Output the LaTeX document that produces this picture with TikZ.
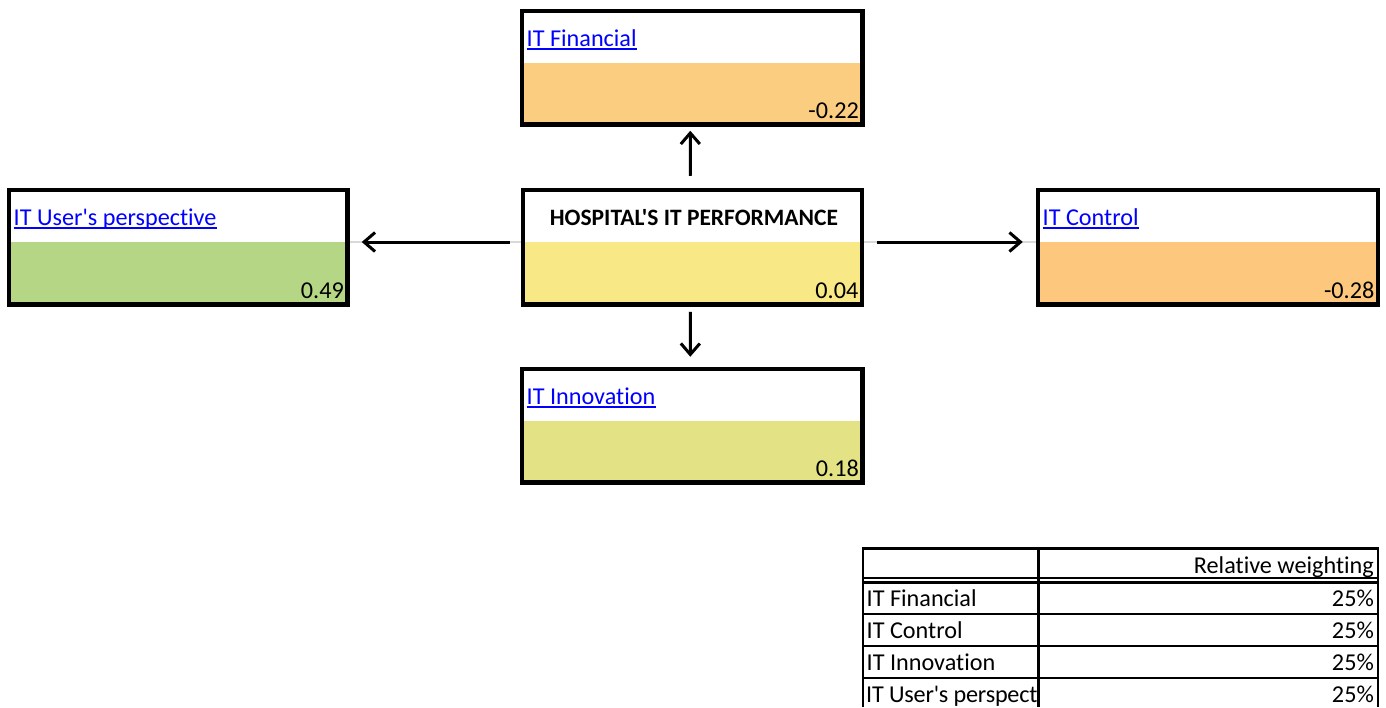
\documentclass[tikz,border=0pt]{standalone}
\usepackage{fontspec}
\setmainfont{Carlito}[Ligatures={TeXOff,NoCommon}]
\usetikzlibrary{arrows.meta,fit}

\definecolor{finband}{HTML}{FBCD80}
\definecolor{userband}{HTML}{B5D685}
\definecolor{ctrband}{HTML}{F8E986}
\definecolor{ctrlband}{HTML}{FDC77D}
\definecolor{innband}{HTML}{E3E385}
\definecolor{linkblue}{HTML}{0000FF}
\definecolor{gridgray}{HTML}{D9D9D9}

\tikzset{
  frame/.style={draw=black, line width=4.5pt, inner sep=0pt},
  txt/.style={inner sep=0pt, font=\fontsize{24.2}{29}\selectfont},
  link/.style={txt, anchor=base west, text=linkblue},
  value/.style={txt, anchor=base east},
  flow/.style={line width=3pt, -{Straight Barb[length=11pt,width=19pt,line width=3pt]}},
  gridline/.style={draw=gridgray, line width=1.5pt},
  tabline/.style={draw=black, line width=2.5pt},
  cell/.style={txt, anchor=base west},
  num/.style={txt, anchor=base east},
}

% #1 name, #2 left, #3 top, #4 right, #5 bottom, #6 band colour, #7 label, #8 value
\newcommand\kpibox[8]{%
  \fill[#6] (#2,#3+52) rectangle (#4,#5);
  \node[frame, fit={(#2,#3) (#4,#5)}] (#1) {};
  \node[link] (#1-lab) at (#2+4.5,#3+35) {#7};
  \draw[linkblue, line width=1.7pt] ([yshift=-3pt]#1-lab.base west) -- ([yshift=-3pt]#1-lab.base east);
  \node[value] (#1-val) at (#4-3.5,#5-6.5) {#8};
}

\begin{document}
\begin{tikzpicture}[x=1pt,y=-1pt]
  \useasboundingbox (0,0) rectangle (1386,707);
  \fill[white] (0,0) rectangle (1386,707);

  % sheet grid line behind the horizontal arrows
  \draw[gridline] (347,242) -- (523,242);
  \draw[gridline] (862,242) -- (1038,242);

  % the four perspective boxes
  \kpibox{fin}{522}{11}{862.5}{124.5}{finband}{IT Financial}{-0.22}
  \kpibox{user}{9}{190}{347.5}{304.5}{userband}{IT User's perspective}{0.49}
  \kpibox{ctrl}{1038}{190}{1378}{304.5}{ctrlband}{IT Control}{-0.28}
  \kpibox{inn}{522}{369}{862.5}{482.5}{innband}{IT Innovation}{0.18}

  % central box
  \fill[ctrband] (523,242) rectangle (862,304.5);
  \node[frame, fit={(523,190) (862,304.5)}] (ctr) {};
  \node[txt, anchor=base, font=\fontsize{23.5}{28}\selectfont\bfseries] (ctr-lab) at (694,225) {HOSPITAL'S IT PERFORMANCE};
  \node[value] (ctr-val) at (858.5,298) {0.04};

  % arrows from the centre to each perspective
  \draw[flow, shorten <=12pt, shorten >=4pt] ([xshift=-2pt]ctr.north) -- ([xshift=-2pt]fin.south);
  \draw[flow, shorten <=5pt, shorten >=10pt] ([xshift=-2pt]ctr.south) -- ([xshift=-2pt]inn.north);
  \draw[flow, shorten <=11pt, shorten >=12pt] ([yshift=5.25pt]ctr.west) -- ([yshift=5.25pt]user.east);
  \draw[flow, shorten <=13pt, shorten >=13pt] ([yshift=5.25pt]ctr.east) -- ([yshift=5.25pt]ctrl.west);

  % weighting table: cell texts first, rules on top
  \node[num] (h-weight) at (1374,573) {Relative weighting};
  \node[cell] (r1) at (866.5,606) {IT Financial};
  \node[cell] (r2) at (866.5,638) {IT Control};
  \node[cell] (r3) at (866.5,670) {IT Innovation};
  \begin{scope}
    \clip (863,679) rectangle (1038.5,707);
    \node[cell, font=\fontsize{24.2}{29}\selectfont\addfontfeature{LetterSpace=-0.9}] (r4) at (866,702) {IT User's perspective};
  \end{scope}
  \node[num] (w1) at (1374,606) {25\%};
  \node[num] (w2) at (1374,638) {25\%};
  \node[num] (w3) at (1374,670) {25\%};
  \node[num] (w4) at (1374,702) {25\%};

  \draw[tabline] (863,707) -- (863,548.5) -- (1378,548.5) -- (1378,707);
  \draw[tabline] (1038.5,548.5) -- (1038.5,707);
  \draw[tabline] (863,578) -- (1378,578);
  \draw[tabline] (863,582.5) -- (1378,582.5);
  \draw[tabline] (863,614) -- (1378,614);
  \draw[tabline] (863,646) -- (1378,646);
  \draw[tabline] (863,678) -- (1378,678);
\end{tikzpicture}
\end{document}
